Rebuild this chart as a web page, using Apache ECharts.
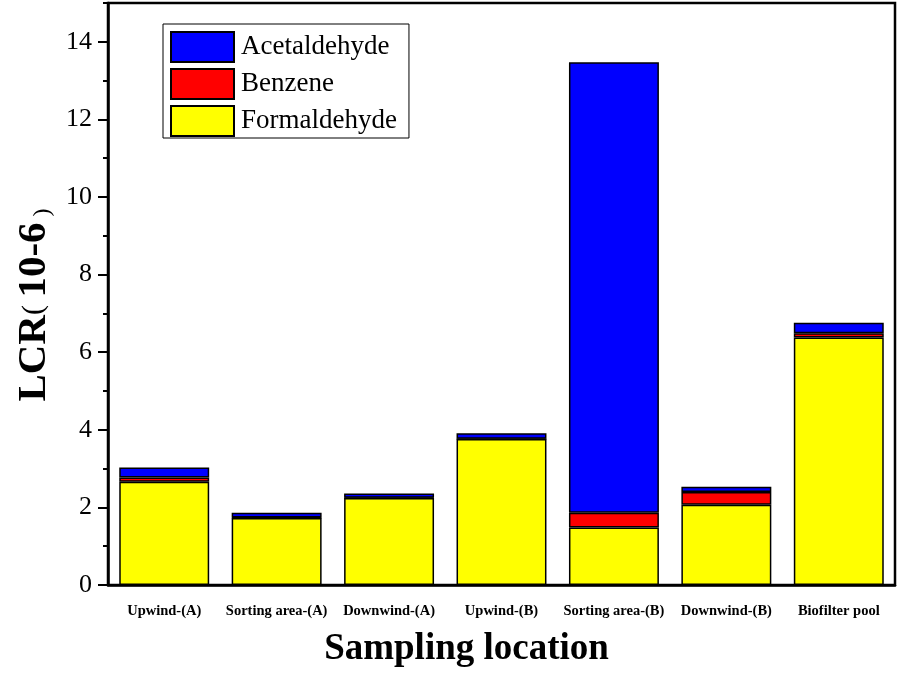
<!DOCTYPE html>
<html><head><meta charset="utf-8">
<script src="https://cdn.jsdelivr.net/npm/echarts@6/dist/echarts.min.js"></script>
<style>html,body{margin:0;padding:0;background:#fff}#c{width:898px;height:674px}</style>
</head><body><div id="c"></div>
<script>
const categories = ['Upwind-(A)','Sorting area-(A)','Downwind-(A)','Upwind-(B)','Sorting area-(B)','Downwind-(B)','Biofilter pool'];
const formaldehyde = [2.66, 1.73, 2.24, 3.76, 1.48, 2.07, 6.38];
const benzene      = [0.11, 0.01, 0.01, 0.01, 0.38, 0.33, 0.11];
const acetaldehyde = [0.26, 0.12, 0.11, 0.14, 11.61, 0.13, 0.27];
const legendNames = ['Acetaldehyde','Benzene','Formaldehyde'];

const F = 'Liberation Serif, Times New Roman, serif';
const chart = echarts.init(document.getElementById('c'));
const bar = (name, data, color) => ({
  name, type:'bar', stack:'t', data, barWidth:'80%',
  itemStyle:{color, borderColor:'#000', borderWidth:1.5}
});
chart.setOption({
  animation:false,
  grid:{left:108, right:3, top:3, bottom:89, show:true, borderColor:'#000', borderWidth:2.5,
        containLabel:false, outerBoundsMode:'none'},
  legend:{
    data:legendNames, orient:'vertical', left:163, top:24,
    padding:[7,12,1,7], itemGap:5, itemWidth:63, itemHeight:30,
    borderColor:'#000', borderWidth:1, icon:'rect',
    textStyle:{fontFamily:F, fontSize:27, color:'#000', padding:[0,0,0,2]}
  },
  xAxis:{
    type:'category', data:categories,
    name:'Sampling location', nameLocation:'middle', nameGap:46,
    nameTextStyle:{fontFamily:F, fontSize:37, fontWeight:'bold', color:'#000', padding:[0,70,0,0]},
    axisLine:{lineStyle:{color:'#000', width:2.5}},
    axisTick:{alignWithLabel:true, length:8, lineStyle:{color:'#000', width:2}},
    axisLabel:{fontFamily:F, fontSize:14.5, fontWeight:'bold', color:'#000', margin:19, interval:0}
  },
  yAxis:[{
    type:'value', min:0, max:15, interval:2,
    name:'{a|LCR}{b|( }{a|10-6}{c| )}', nameLocation:'middle', nameGap:52,
    nameTextStyle:{padding:[0,22,0,0], rich:{
      a:{fontFamily:F, fontSize:41, fontWeight:'bold', color:'#000'},
      b:{fontFamily:F, fontSize:30, color:'#000'},
      c:{fontFamily:F, fontSize:24, color:'#000', padding:[16,0,0,0]}
    }},
    splitLine:{show:false},
    axisLine:{show:true, lineStyle:{color:'#000', width:2.5}},
    axisTick:{show:true, length:10, lineStyle:{color:'#000', width:2}},
    axisLabel:{fontFamily:F, fontSize:26, color:'#000', margin:16, showMaxLabel:false}
  },{
    type:'value', min:0, max:15, interval:1, position:'left',
    splitLine:{show:false},
    axisLine:{show:false},
    axisTick:{show:true, length:5, lineStyle:{color:'#000', width:2}},
    axisLabel:{show:false}
  }],
  series:[
    bar('Formaldehyde', formaldehyde, '#ffff00'),
    bar('Benzene', benzene, '#ff0000'),
    bar('Acetaldehyde', acetaldehyde, '#0000ff')
  ]
});
</script></body></html>
